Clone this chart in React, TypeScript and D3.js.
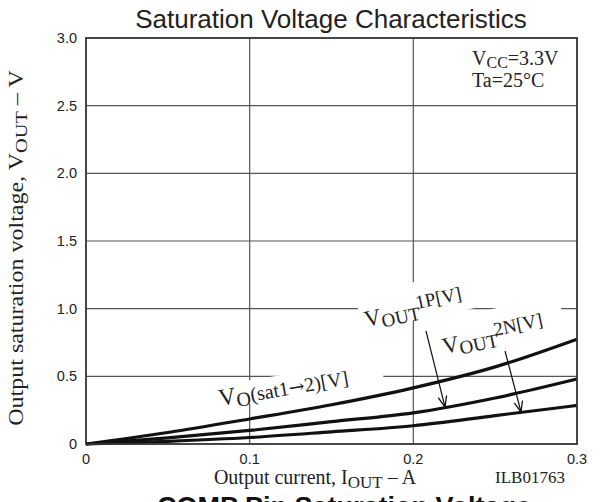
import * as d3 from 'd3'

const W = 601
const H = 502
const margin = { top: 38, right: 24, bottom: 58, left: 86 }
const innerW = W - margin.left - margin.right
const innerH = H - margin.top - margin.bottom

// output current (A)
const current = [0, 0.05, 0.1, 0.15, 0.2, 0.25, 0.3]
// saturation voltages (V)
const voSat = [0, 0.085, 0.185, 0.29, 0.415, 0.57, 0.775]
const vout1P = [0, 0.045, 0.1, 0.165, 0.23, 0.34, 0.48]
const vout2N = [0, 0.02, 0.048, 0.09, 0.135, 0.21, 0.285]

const xTicks = [0, 0.1, 0.2, 0.3]
const xTickLabels = ['0', '0.1', '0.2', '0.3']
const yTicks = [0, 0.5, 1.0, 1.5, 2.0, 2.5, 3.0]
const yTickLabels = ['0', '0.5', '1.0', '1.5', '2.0', '2.5', '3.0']

const serif = '"Liberation Serif", "Times New Roman", serif'
const sans = '"Liberation Sans", Arial, sans-serif'

const x = d3.scaleLinear().domain([0, 0.3]).range([0, innerW])
const y = d3.scaleLinear().domain([0, 3]).range([innerH, 0])

const line = d3
  .line<number>()
  .x((_, i) => x(current[i]))
  .y(d => y(d))
  .curve(d3.curveMonotoneX)

export default function App() {
  return (
    <svg
      width={W}
      height={H}
      style={{ position: 'absolute', left: 0, top: 0, background: '#fff', overflow: 'hidden' }}
    >
      <defs>
        <marker id="arr" viewBox="0 0 10 10" refX="10" refY="5" markerWidth="9" markerHeight="9" orient="auto">
          <path d="M0,1 L10,5 L0,9" fill="none" stroke="#111" strokeWidth="1.2" />
        </marker>
      </defs>

      <text x={331} y={28} textAnchor="middle" fontFamily={sans} fontSize={26} fill="#222">
        Saturation Voltage Characteristics
      </text>

      <g transform={`translate(${margin.left},${margin.top})`}>
        {/* grid */}
        {xTicks.slice(1, -1).map(t => (
          <line key={'gx' + t} x1={x(t)} x2={x(t)} y1={0} y2={innerH} stroke="#555" strokeWidth={1.2} />
        ))}
        {yTicks.slice(1, -1).map(t => (
          <line key={'gy' + t} x1={0} x2={innerW} y1={y(t)} y2={y(t)} stroke="#555" strokeWidth={1.2} />
        ))}
      </g>

      {/* curve labels, white boxes break the grid lines */}
      <g transform="translate(220,406) rotate(-10)" fontFamily={serif} fill="#222">
        <rect x={-2} y={-20} width={168} height={23} fill="#fff" />
        <text fontSize={24}>
          V<tspan fontSize={20} dy={4}>O</tspan>
          <tspan fontSize={20} dy={-3}>(sat1<tspan fontFamily='"DejaVu Serif", serif' fontSize={19}>→</tspan>2)[V]</tspan>
        </text>
      </g>
      <g transform="translate(366,327) rotate(-12)" fontFamily={serif} fill="#222">
        <rect x={-4} y={-34} width={124} height={38} fill="#fff" />
        <text fontSize={23}>
          V<tspan fontSize={19} dy={4}>OUT</tspan>
          <tspan fontSize={19} dx={-2} dy={-11}>1P[V]</tspan>
        </text>
      </g>
      <g transform="translate(444,354) rotate(-12)" fontFamily={serif} fill="#222">
        <rect x={-4} y={-34} width={128} height={38} fill="#fff" />
        <text fontSize={23}>
          V<tspan fontSize={19} dy={4}>OUT</tspan>
          <tspan fontSize={19} dx={-2} dy={-11}>2N[V]</tspan>
        </text>
      </g>

      <g transform={`translate(${margin.left},${margin.top})`}>
        {[voSat, vout1P, vout2N].map((s, i) => (
          <path key={'c' + i} d={line(s) || ''} fill="none" stroke="#111" strokeWidth={3.2} />
        ))}

        <rect x={0} y={0} width={innerW} height={innerH} fill="none" stroke="#333" strokeWidth={1.8} />

        {yTicks.map((t, i) => (
          <text key={'yl' + t} x={-9} y={y(t) + 5} textAnchor="end" fontFamily={sans} fontSize={14.5} fill="#222">
            {yTickLabels[i]}
          </text>
        ))}
        {xTicks.map((t, i) => (
          <text key={'xl' + t} x={x(t)} y={innerH + 20} textAnchor="middle" fontFamily={sans} fontSize={14.5} fill="#222">
            {xTickLabels[i]}
          </text>
        ))}
      </g>

      <line x1={426} y1={331} x2={445} y2={407} stroke="#111" strokeWidth={1.2} markerEnd="url(#arr)" />
      <line x1={505} y1={351} x2={521} y2={412} stroke="#111" strokeWidth={1.2} markerEnd="url(#arr)" />

      {/* conditions */}
      <text x={472} y={65} fontFamily={serif} fontSize={20} fill="#222">
        V<tspan fontSize={16} dy={3}>CC</tspan>
        <tspan dy={-3}>=3.3V</tspan>
      </text>
      <text x={472} y={87} fontFamily={serif} fontSize={20} fill="#222">
        Ta=25°C
      </text>

      {/* axis titles */}
      <text
        transform="translate(23,248) rotate(-90) scale(1.2,1)"
        textAnchor="middle"
        fontFamily={serif}
        fontSize={20}
        fill="#222"
      >
        Output saturation voltage, V<tspan fontSize={17} dy={4}>OUT</tspan>
        <tspan dy={-4}> – V</tspan>
      </text>
      <text x={315} y={484} textAnchor="middle" fontFamily={serif} fontSize={20} fill="#222">
        Output current, I<tspan fontSize={17} dy={4}>OUT</tspan>
        <tspan dy={-4}> – A</tspan>
      </text>
      <text x={530} y={483} textAnchor="middle" fontFamily={serif} fontSize={17} fill="#222">
        ILB01763
      </text>

      <text x={157} y={516} fontFamily={sans} fontSize={27} fontWeight="bold" fill="#111">
        COMP Pin Saturation Voltage
      </text>
    </svg>
  )
}
